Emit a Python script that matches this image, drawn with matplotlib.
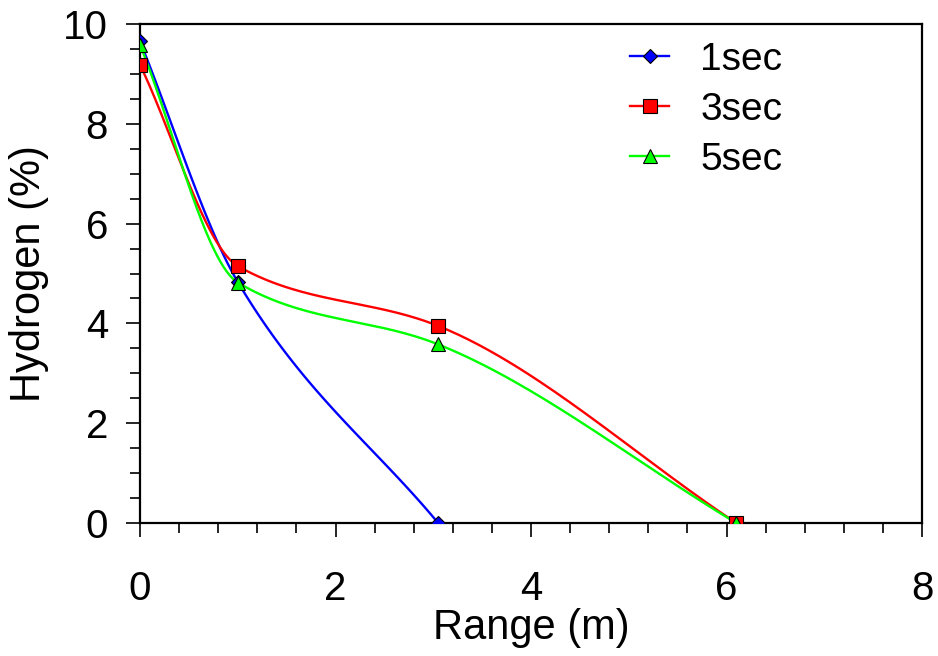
import numpy as np
import matplotlib.pyplot as plt
from matplotlib.ticker import MultipleLocator

# data
x_1s = [0.0, 1.0, 3.05]
y_1s = [9.65, 4.83, 0.0]
x_3s = [0.0, 1.0, 3.05, 6.1]
y_3s = [9.18, 5.15, 3.95, 0.0]
x_5s = [0.0, 1.0, 3.05, 6.1]
y_5s = [9.58, 4.82, 3.58, 0.0]
labels = ['1sec', '3sec', '5sec']
colors = ['#0000ff', '#ff0000', '#00ff00']
markers = ['D', 's', '^']


def smooth(x, y, n=60):
    # monotone cubic (pchip) curve, only used to draw the smoothed line
    x = np.asarray(x, float)
    y = np.asarray(y, float)
    h = np.diff(x)
    d = np.diff(y) / h
    k = len(x)
    m = np.zeros(k)
    for i in range(1, k - 1):
        if d[i - 1] * d[i] > 0:
            w1 = 2 * h[i] + h[i - 1]
            w2 = h[i] + 2 * h[i - 1]
            m[i] = (w1 + w2) / (w1 / d[i - 1] + w2 / d[i])
    m[0] = d[0]
    m[-1] = d[-1]
    xs, ys = [], []
    for i in range(k - 1):
        t = np.linspace(0, 1, n)
        h00 = 2 * t**3 - 3 * t**2 + 1
        h10 = t**3 - 2 * t**2 + t
        h01 = -2 * t**3 + 3 * t**2
        h11 = t**3 - t**2
        xs.append(x[i] + t * h[i])
        ys.append(h00 * y[i] + h10 * h[i] * m[i] + h01 * y[i + 1] + h11 * h[i] * m[i + 1])
    return np.concatenate(xs), np.concatenate(ys)


plt.rcParams['font.family'] = ['Liberation Sans', 'DejaVu Sans']

fig = plt.figure(figsize=(9.38, 6.56), dpi=100)
ax = fig.add_axes([0.1493, 0.2027, 0.8337, 0.7607])

sizes = {'D': 7.5, 's': 9.5, '^': 9.5}
series = [(x_1s, y_1s), (x_3s, y_3s), (x_5s, y_5s)]
for (xv, yv), lab, col, mk in zip(series, labels, colors, markers):
    sx, sy = smooth(xv, yv)
    ax.plot(sx, sy, color=col, lw=1.7, zorder=2)
    ax.plot(xv, yv, ls='none', marker=mk, ms=sizes[mk],
            mfc=col, mec='black', mew=0.8, zorder=3)
    ax.plot([], [], color=col, lw=1.7, marker=mk, ms=sizes[mk],
            mfc=col, mec='black', mew=0.8, label=lab)

ax.set_xlim(0, 8)
ax.set_ylim(0, 10)
ax.xaxis.set_major_locator(MultipleLocator(2))
ax.xaxis.set_minor_locator(MultipleLocator(0.4))
ax.yaxis.set_major_locator(MultipleLocator(2))
ax.yaxis.set_minor_locator(MultipleLocator(0.5))

for sp in ax.spines.values():
    sp.set_linewidth(1.6)
ax.tick_params(which='both', direction='out', top=False, right=False,
               width=1.2, color='black')
ax.tick_params(which='major', length=10, labelsize=29)
ax.tick_params(which='minor', length=7)
ax.tick_params(axis='x', which='major', pad=24)
ax.tick_params(axis='y', which='major', pad=13)

ax.set_xlabel('Range (m)', fontsize=30, labelpad=0)
ax.set_ylabel('Hydrogen (%)', fontsize=30, labelpad=10)

ax.legend(loc='upper left', bbox_to_anchor=(0.607, 0.995), frameon=False,
          fontsize=28, handlelength=1.0, handletextpad=0.8,
          labelspacing=0.36, numpoints=1, borderaxespad=0)

fig.savefig('out.png', dpi=100)
